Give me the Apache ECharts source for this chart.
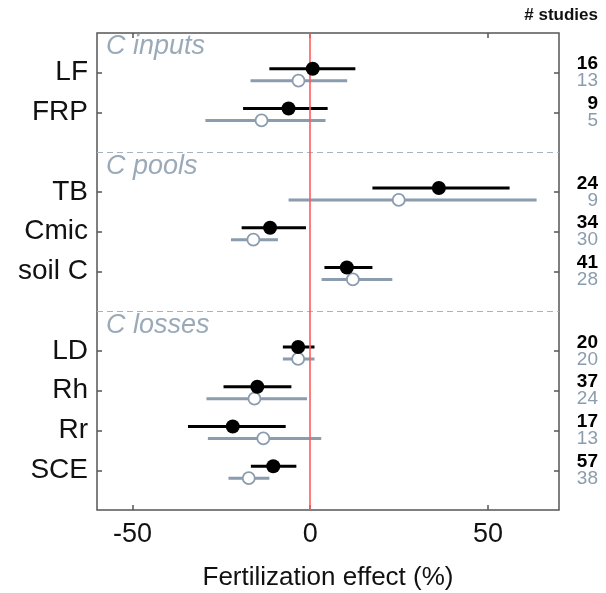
<!DOCTYPE html>
<html><head><meta charset="utf-8">
<script src="https://cdn.jsdelivr.net/npm/echarts@6/dist/echarts.min.js"></script>
<style>html,body{margin:0;padding:0;background:#fff}#c{width:606px;height:593px}</style>
</head><body><div id="c"></div>
<script>
// Row positions (top to bottom) of each variable
const categories = ['LF','FRP','TB','Cmic','soil C','LD','Rh','Rr','SCE'];
const rowPos     = [1, 2, 4, 5, 6, 8, 9, 10, 11];
// Black (filled) series: mean, lower CI, upper CI
const blackMean  = [0.7, -6.1, 36.2, -11.3, 10.3, -3.4, -14.9, -21.8, -10.4];
const blackLow   = [-11.5, -18.9, 17.5, -19.3, 4.0, -7.7, -24.4, -34.4, -16.7];
const blackHigh  = [12.7, 4.9, 56.1, -1.2, 17.5, 1.2, -5.3, -6.9, -3.9];
// Grey (open) series
const greyMean   = [-3.3, -13.7, 24.9, -16.0, 12.0, -3.4, -15.7, -13.2, -17.3];
const greyLow    = [-16.8, -29.5, -6.1, -22.3, 3.2, -7.7, -29.2, -28.8, -23.0];
const greyHigh   = [10.4, 4.3, 63.7, -9.1, 23.1, 1.2, -0.9, 3.1, -11.5];
// Number of studies
const blackN     = [16, 9, 24, 34, 41, 20, 37, 17, 57];
const greyN      = [13, 5, 9, 30, 28, 20, 24, 13, 38];
// Section labels and separators
const sections   = ['C inputs', 'C pools', 'C losses'];
const sectionPos = [0.35, 3.35, 7.37];
const separators = [3, 7];
const xTicks     = [-50, 0, 50];

const FONT = 'Liberation Sans, Arial, sans-serif';
const BLACK = '#000000', GREY = '#8a9cad', RED = '#ff5c5c', FRAME = '#555555';
const offB = -0.1, offG = 0.2;

const errData = (low, high, off) => rowPos.map((p, i) => [low[i], high[i], p + off]);
const errRender = (color) => function (params, api) {
  const a = api.coord([api.value(0), api.value(2)]);
  const b = api.coord([api.value(1), api.value(2)]);
  return { type: 'line', shape: { x1: a[0], y1: a[1], x2: b[0], y2: b[1] },
           style: { stroke: color, lineWidth: 3 } };
};
const tickStyle = { show: true, inside: true, length: 5, lineStyle: { color: FRAME, width: 1.5 } };

const chart = echarts.init(document.getElementById('c'), null, { renderer: 'canvas' });
chart.setOption({
  animation: false,
  textStyle: { fontFamily: FONT },
  grid: { left: 97, right: 47, top: 33, bottom: 83, outerBoundsMode: 'none', containLabel: false,
          show: true, borderColor: FRAME, borderWidth: 1.5, backgroundColor: 'transparent' },
  title: { text: '# studies', right: 3, top: 2, textStyle: { fontSize: 17, fontWeight: 'bold', color: '#111', fontFamily: FONT } },
  xAxis: [{
    type: 'value', min: -60, max: 70, position: 'bottom',
    name: 'Fertilization effect (%)', nameLocation: 'middle', nameGap: 55,
    nameTextStyle: { fontSize: 26, color: '#111' },
    axisLine: { show: false, onZero: false }, splitLine: { show: false },
    axisTick: Object.assign({ customValues: xTicks }, tickStyle),
    axisLabel: { customValues: xTicks, fontSize: 27, color: '#111', margin: 11 }
  }, {
    type: 'value', min: -60, max: 70, position: 'top',
    axisLine: { show: false, onZero: false }, splitLine: { show: false },
    axisTick: Object.assign({ customValues: xTicks }, tickStyle),
    axisLabel: { show: false }
  }],
  yAxis: [{
    type: 'value', min: 0, max: 12, inverse: true, position: 'left',
    axisLine: { show: false, onZero: false }, splitLine: { show: false },
    axisTick: Object.assign({ customValues: rowPos }, tickStyle),
    axisLabel: { customValues: rowPos, fontSize: 28, color: '#111', margin: 9,
      formatter: v => categories[rowPos.indexOf(Math.round(v))] || '' }
  }, {
    type: 'value', min: 0, max: 12, inverse: true, position: 'right',
    axisLine: { show: false, onZero: false }, splitLine: { show: false },
    axisTick: Object.assign({ customValues: rowPos }, tickStyle),
    axisLabel: { customValues: rowPos, margin: 39, align: 'right',
      formatter: v => { const i = rowPos.indexOf(Math.round(v)); return i < 0 ? '' : '{b|' + blackN[i] + '}\n{g|' + greyN[i] + '}'; },
      rich: {
        b: { fontSize: 19, fontWeight: 'bold', color: '#000', lineHeight: 17, align: 'right' },
        g: { fontSize: 19, color: GREY, lineHeight: 17, align: 'right' }
      } }
  }],
  series: [
    { type: 'line', data: [], xAxisIndex: 0, yAxisIndex: 0,
      markLine: { silent: true, symbol: 'none', label: { show: false },
        data: separators.map(s => ({ yAxis: s, lineStyle: { color: '#a6b4c0', type: [6, 4], width: 1.2 } }))
          .concat([{ xAxis: 0, lineStyle: { color: RED, type: 'solid', width: 1.6 } }]) } },
    { type: 'custom', renderItem: errRender(GREY), data: errData(greyLow, greyHigh, offG), encode: { x: [0, 1], y: 2 }, z: 2 },
    { type: 'custom', renderItem: errRender(BLACK), data: errData(blackLow, blackHigh, offB), encode: { x: [0, 1], y: 2 }, z: 3 },
    { type: 'scatter', data: rowPos.map((p, i) => [greyMean[i], p + offG]), symbol: 'circle', symbolSize: 12,
      itemStyle: { color: '#fff', borderColor: GREY, borderWidth: 1.8, opacity: 1 }, z: 4 },
    { type: 'scatter', data: rowPos.map((p, i) => [blackMean[i], p + offB]), symbol: 'circle', symbolSize: 14,
      itemStyle: { color: BLACK, opacity: 1 }, z: 5 },
    { type: 'scatter', data: sections.map((s, i) => [-60, sectionPos[i], s]), symbolSize: 0, silent: true,
      label: { show: true, position: 'right', distance: 9, formatter: p => p.data[2],
        fontSize: 27, fontStyle: 'italic', color: '#8295a7' } }
  ]
});
</script></body></html>
